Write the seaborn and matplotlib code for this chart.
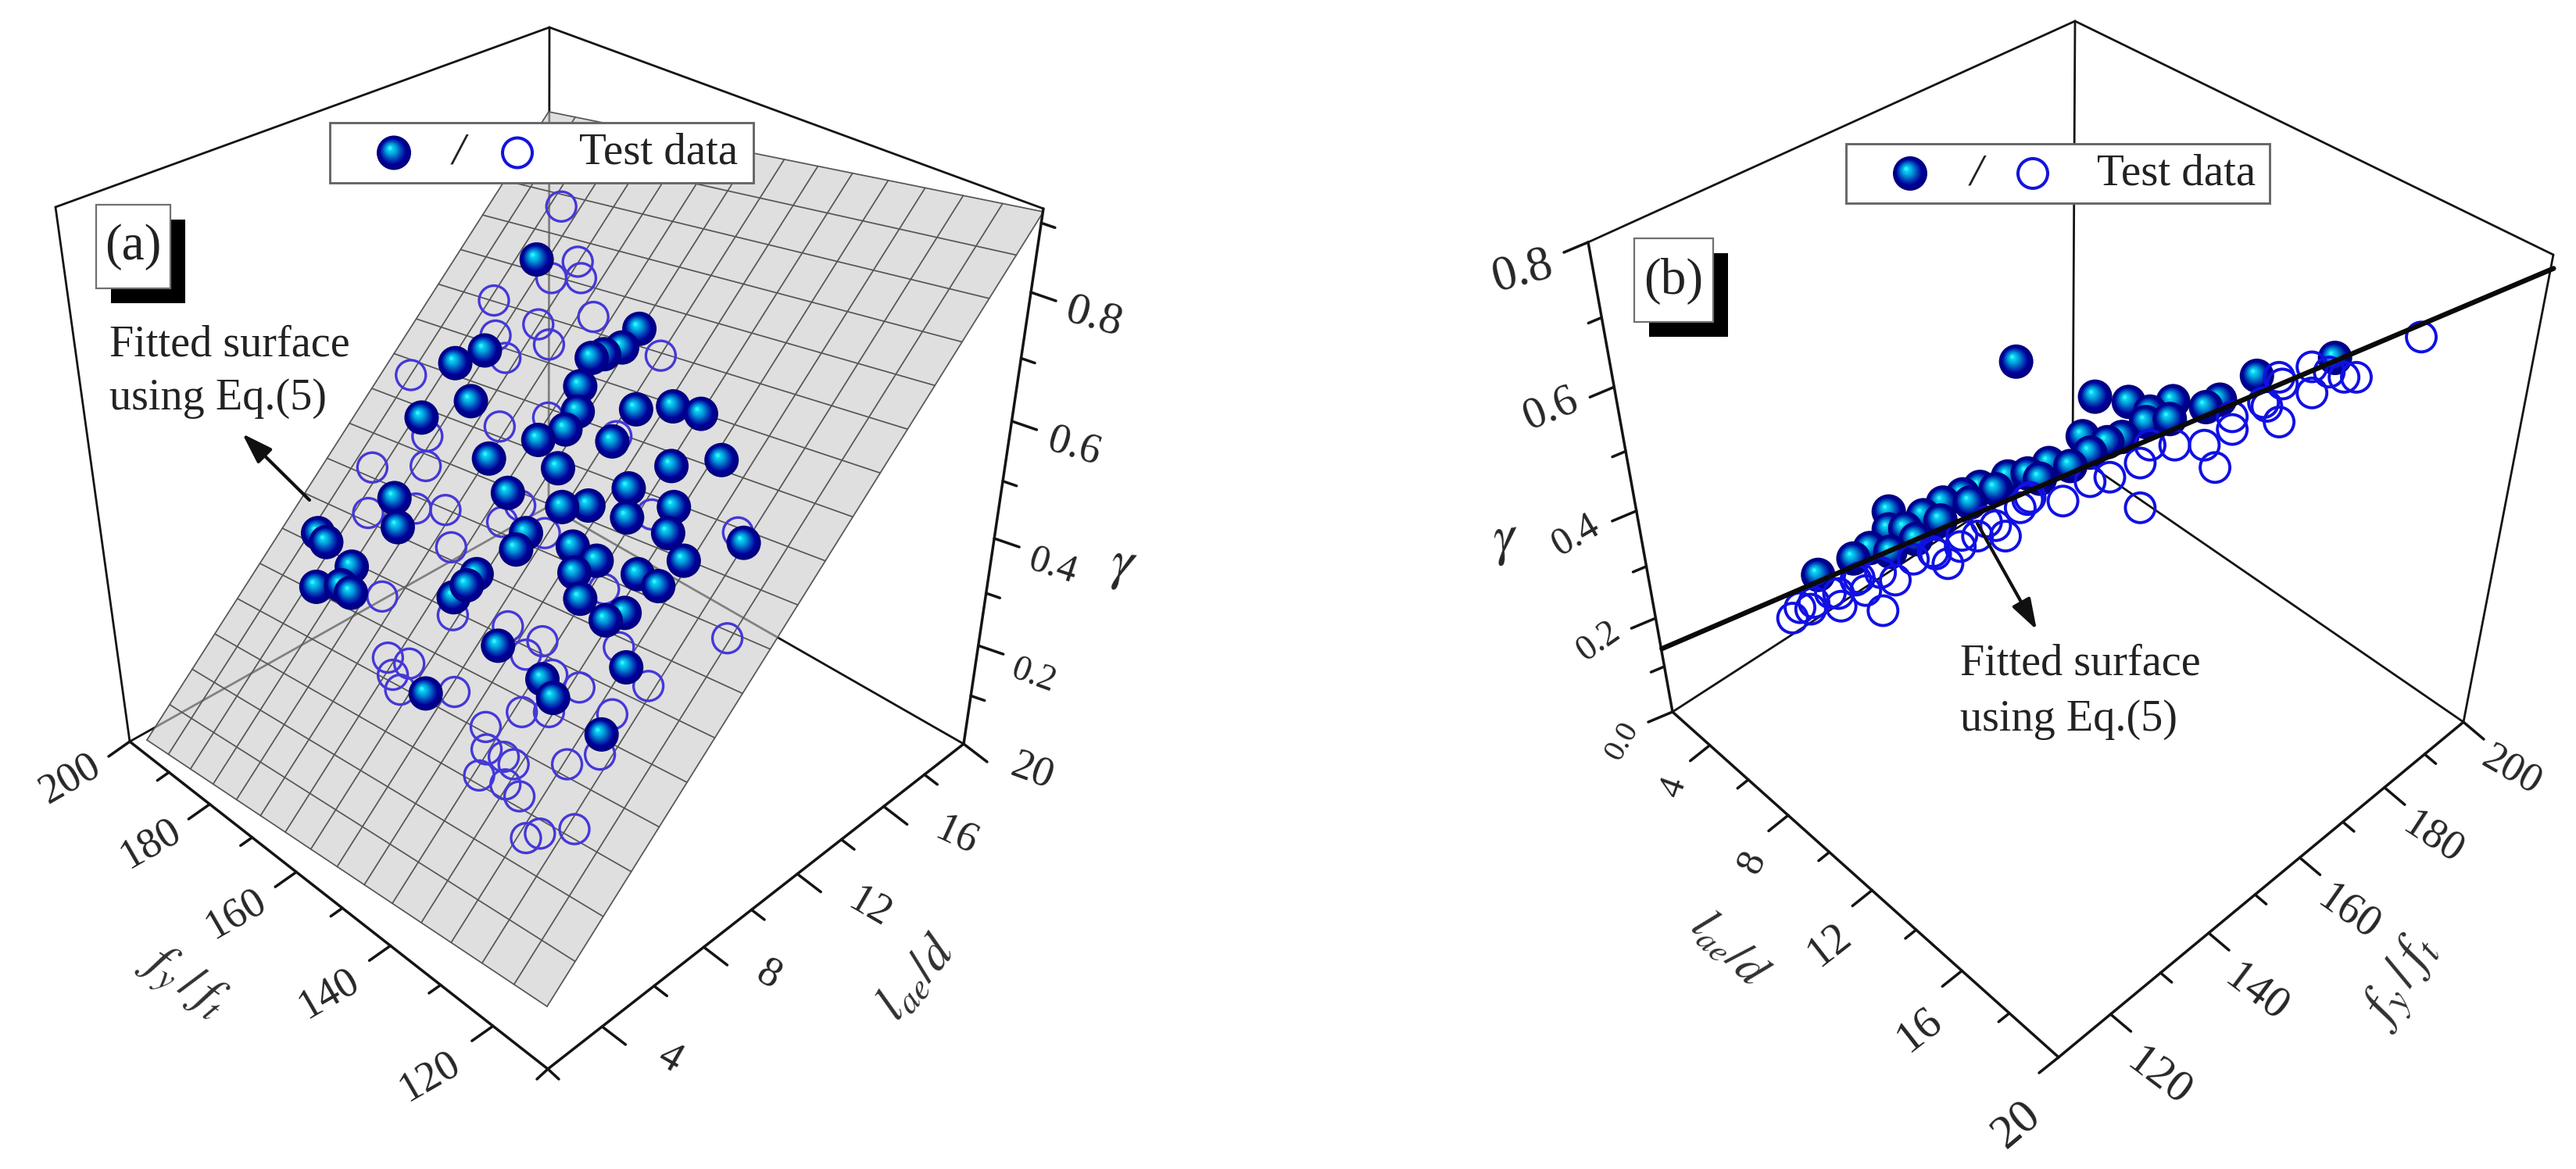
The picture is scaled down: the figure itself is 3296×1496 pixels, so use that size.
import numpy as np
import pandas as pd
import matplotlib
matplotlib.use("Agg")
import matplotlib.pyplot as plt
from matplotlib.patches import Rectangle, FancyArrowPatch
from matplotlib.colors import to_rgb
import seaborn as sns

sns.set_theme(style="white")
plt.rcParams["font.family"] = ["Liberation Serif", "DejaVu Serif"]
plt.rcParams["mathtext.fontset"] = "stix"

# ---- projected data (reading units: 1568 per half-image) ----
a_filled_x = [653,778,757,735,720,590,554,706,573,703,513,774,819,853,688,655,745,595,878,817,679,618,480,765,820,716,684,763,484,813,387,397,640,628,905,697,726,832,428,580,699,776,801,385,415,427,552,568,706,760,737,606,762,660,673,518,732]
a_filled_y = [348,441,466,475,480,470,487,518,538,552,560,549,545,555,576,590,592,615,617,625,628,661,668,655,680,678,680,694,707,715,715,727,715,737,728,733,752,752,760,770,768,770,786,787,785,795,801,785,803,822,832,866,895,911,936,930,985]
a_open_x = [683,703,707,671,601,722,655,603,668,615,804,500,667,520,608,750,453,518,506,448,542,633,611,793,663,549,898,465,735,551,618,660,640,753,885,472,498,478,487,553,672,705,789,635,668,745,591,592,613,625,583,615,632,690,730,699,640,657]
a_open_y = [277,351,373,373,403,425,435,450,462,480,477,503,560,585,572,585,627,625,682,688,684,678,700,690,715,734,714,800,790,825,840,860,878,868,856,882,890,905,925,928,905,922,920,955,955,958,975,1005,1015,1025,1040,1052,1068,1025,1012,1112,1124,1118]

b_filled_x = [886,982,1023,1077,1134,1117,1179,1274,1049,1044,1073,967,1015,997,976,926,952,876,900,842,821,797,773,731,731,751,708,688,645,861,830,794,764,733,915]
b_filled_y = [485,532,539,538,536,546,504,480,552,566,562,585,586,593,607,621,625,639,635,653,663,674,691,686,710,709,735,749,771,656,674,698,723,740,642]
b_open_x = [614,623,636,673,670,703,724,739,691,721,761,803,788,818,839,873,861,891,903,943,976,1000,1037,1037,1049,1079,1115,1128,1149,1149,1206,1191,1206,1246,1246,1285,1300,1267,1379,660,640,695,785,820,850,900,1210,1187]
b_open_y = [829,815,817,813,796,792,819,778,778,768,750,756,743,733,719,719,705,681,667,672,646,640,621,681,597,597,597,627,576,559,566,545,506,527,492,506,506,499,452,795,808,775,740,718,700,670,515,540]
b_surface_edge_x = [455,1000,1540]
b_surface_edge_y = [870,612,360]

# axis values
fy_major = [120,140,160,180,200]
fy_minor = [130,150,170,190]
lac_major = [4,8,12,16,20]
lac_minor = [6,10,14,18]
gam_major = [0.2,0.4,0.6,0.8]
gam_minor = [0.1,0.3,0.5,0.7]
fy_grid = list(range(110,201,6))
lac_grid = list(range(2,21))

READ_X, READ_Y = 0.951, 1.048
BLACK = "#141414"

fig = plt.figure(figsize=(32.96,14.96), dpi=100, facecolor="white")
ax_a = fig.add_axes([0,0,0.5,1]); ax_a.set_xlim(0,1648); ax_a.set_ylim(1496,0)
ax_b = fig.add_axes([0.5,0,0.5,1]); ax_b.set_xlim(1648,3296); ax_b.set_ylim(1496,0)
for ax in (ax_a,ax_b):
    ax.axis("off")


def edge(p0,p1,v0,v1,k,v):
    t=(v-v0)/(v1-v0)
    s=k*t/(1-t+k*t)
    return np.array(p0)+(np.array(p1)-np.array(p0))*s


def homography(src,dst):
    A,b=[],[]
    for (u,v),(x,y) in zip(src,dst):
        A.append([u,v,1,0,0,0,-u*x,-v*x]); b.append(x)
        A.append([0,0,0,u,v,1,-u*y,-v*y]); b.append(y)
    h=np.linalg.solve(np.array(A,float),np.array(b,float))
    return np.append(h,1).reshape(3,3)


def apply_h(H,u,v):
    w=H@np.array([u,v,1.0])
    return w[0]/w[2],w[1]/w[2]


def line(ax,p,q,lw=2.0,c=BLACK,z=3):
    ax.plot([p[0],q[0]],[p[1],q[1]],color=c,lw=lw,solid_capstyle="round",zorder=z)


def axis_ticks(ax,p0,p1,v0,v1,k,major,minor,out,lw=2.0):
    line(ax,p0,p1,lw=lw)
    o=np.array(out)
    for v in major:
        p=edge(p0,p1,v0,v1,k,v); line(ax,p,p+o,lw=lw)
    for v in minor:
        p=edge(p0,p1,v0,v1,k,v); line(ax,p,p+o*0.55,lw=lw)


def spheres(ax,xs,ys,z=6,R=22.0,stops=None):
    stops=stops or ["#00007c","#00009a","#0050bc","#00b0e4","#2cf0ff"]
    N=13
    names=[f"L{i}" for i in range(N)]
    pal,sizes,rows={}, {}, []
    for i,n in enumerate(names):
        t=i/(N-1)
        pos=t*(len(stops)-1); j=min(int(pos),len(stops)-2); f=pos-j
        pal[n]=tuple((1-f)*np.array(to_rgb(stops[j]))+f*np.array(to_rgb(stops[j+1])))
        d=max(2*R*(1-t)**0.85,5)
        sizes[n]=(d*0.72)**2
    for x,y in zip(xs,ys):
        for i,n in enumerate(names):
            t=i/(N-1)
            rows.append((x-5*t,y-6*t,n))
    df=pd.DataFrame(rows,columns=["x","y","layer"])
    sns.scatterplot(data=df,x="x",y="y",hue="layer",size="layer",palette=pal,sizes=sizes,
                    hue_order=names,size_order=names,legend=False,linewidth=0,ax=ax,zorder=z)


def rings(ax,xs,ys,color,z=5,lw=2.4):
    sns.scatterplot(x=list(xs),y=list(ys),s=(38*0.72)**2,facecolors="none",edgecolor=color,
                    linewidth=lw,ax=ax,zorder=z,legend=False)


def badge(ax,x0,y0,x1,y1,text):
    ax.add_patch(Rectangle((x0+19,y0+19),x1-x0,y1-y0,fc="black",ec="none",zorder=8))
    ax.add_patch(Rectangle((x0,y0),x1-x0,y1-y0,fc="white",ec="#707070",lw=1.6,zorder=9))
    ax.text((x0+x1)/2,(y0+y1)/2+1,text,ha="center",va="center",fontsize=47,color="#222222",zorder=10)


def legend_box(ax,x0,y0,x1,y1,sx,slash,cx,tx,ring_color):
    cy=(y0+y1)/2
    ax.add_patch(Rectangle((x0,y0),x1-x0,y1-y0,fc="white",ec="#666666",lw=2.1,zorder=8))
    spheres(ax,[sx],[cy],z=9)
    ax.text(slash,cy,"/",ha="center",va="center",fontsize=42,style="italic",color="#222222",zorder=10)
    rings(ax,[cx],[cy],ring_color,z=10,lw=2.9)
    ax.text(tx,cy,"Test data",ha="center",va="center",fontsize=41,color="#222222",zorder=10)


def label_list(ax,pos,labels,rot,sizes):
    for (x,y),t,r,s in zip(pos,labels,rot,sizes):
        ax.text(x,y,t,ha="center",va="center",rotation=r,rotation_mode="anchor",fontsize=s,color="#262626",zorder=7)


def arrow(ax,p,q):
    ax.add_patch(FancyArrowPatch(p,q,arrowstyle="-|>,head_length=1.0,head_width=0.33",mutation_scale=24,
                                 lw=3,color="#101010",shrinkA=0,shrinkB=0,zorder=7))

# ==== panel (a) ====
A_top,A_l,A_r=(703,35),(71,265),(1335,267)
A_bl,A_br,A_f,A_back=(166,949),(1233,952),(701,1368),(702,648)
for p,q in [(A_top,A_l),(A_top,A_r),(A_l,A_bl),(A_top,A_back),(A_back,A_bl),(A_back,A_br)]:
    line(ax_a,p,q,lw=2.0,z=1)

H=homography([(200,2),(110,2),(110,20),(200,20)],[(188,947),(700,1288),(1335,271),(702,143)])
corners=[apply_h(H,*c) for c in [(200,2),(110,2),(110,20),(200,20)]]
ax_a.fill([c[0] for c in corners],[c[1] for c in corners],fc="#cbcbcb",ec="none",alpha=0.6,zorder=2)
for fy in fy_grid:
    p,q=apply_h(H,fy,2),apply_h(H,fy,20); line(ax_a,p,q,lw=1.25,c="#565656",z=2.5)
for lac in lac_grid:
    p,q=apply_h(H,110,lac),apply_h(H,200,lac); line(ax_a,p,q,lw=1.25,c="#565656",z=2.5)

axis_ticks(ax_a,A_bl,A_f,200,110,0.828,fy_major,fy_minor,(-27,19),lw=2.5)
axis_ticks(ax_a,A_f,A_br,2,20,1.2,lac_major,lac_minor,(30,23),lw=2.5)
axis_ticks(ax_a,A_br,A_r,0.0,0.92,0.81,gam_major,gam_minor+[0.9],(32,11),lw=2.5)
line(ax_a,A_f,(A_f[0]-14,A_f[1]+13),lw=2.5); line(ax_a,A_f,(A_f[0]+14,A_f[1]+13),lw=2.5)

ax_x=np.array(a_open_x)/READ_X; ax_y=np.array(a_open_y)/READ_Y
rings(ax_a,ax_x,ax_y,"#4438d8",z=5)
spheres(ax_a,np.array(a_filled_x)/READ_X,np.array(a_filled_y)/READ_Y,z=6)

label_list(ax_a,[(90,997),(192,1080),(302,1170),(420,1272),(550,1378)],[str(v) for v in fy_major[::-1]],[30]*5,[39]*5)
label_list(ax_a,[(857,1355),(984,1248),(1112,1162),(1224,1070),(1321,987)],[str(v) for v in lac_major],[-30,-30,-30,-25,-20],[39]*5)
label_list(ax_a,[(1322,865),(1347,725),(1374,572),(1400,406)],[f"{v:.1f}" for v in gam_major],[-20,-18,-17,-16],[33,36,39,42])
ax_a.text(1438,725,r"$\gamma$",fontsize=52,rotation=-5,ha="center",va="center",color="#262626")
ax_a.text(234,1257,r"$f_y\,/\,f_t$",fontsize=47,rotation=-35,ha="center",va="center",color="#303030")
ax_a.text(1175,1253,r"$l_{ae}/d$",fontsize=47,rotation=50,ha="center",va="center",color="#303030")

badge(ax_a,123,262,218,369,"(a)")
legend_box(ax_a,422,157,964,234,504,587,662,843,"#1414dc")
ax_a.text(140,441,"Fitted surface",fontsize=40.5,ha="left",va="center",color="#222222")
ax_a.text(140,510,"using Eq.(5)",fontsize=40.5,ha="left",va="center",color="#222222")
arrow(ax_a,(396,640),(310,555))

# ==== panel (b) ====
B_top,B_l,B_r=(2655,27),(2032,310),(3267,326)
B_bl,B_br,B_f,B_back=(2140,911),(3152,924),(2634,1353),(2652,580)
for p,q in [(B_top,B_l),(B_top,B_r),(B_r,B_br),(B_top,B_back),(B_back,B_bl),(B_back,B_br)]:
    line(ax_b,p,q,lw=2.0,z=1)

axis_ticks(ax_b,B_bl,B_f,2,20,0.855,lac_major,lac_minor,(-25,20),lw=2.5)
axis_ticks(ax_b,B_f,B_br,110,200,1.178,fy_major,fy_minor,(26,22),lw=2.5)
axis_ticks(ax_b,B_bl,B_l,0.0,0.8,0.748,[0.0]+gam_major,gam_minor,(-31,13),lw=2.5)

spheres(ax_b,1648+np.array(b_filled_x)/READ_X,np.array(b_filled_y)/READ_Y,z=4)
rings(ax_b,1648+np.array(b_open_x)/READ_X,np.array(b_open_y)/READ_Y,"#1010e4",z=5,lw=2.8)
sns.lineplot(x=1648+np.array(b_surface_edge_x)/READ_X,y=np.array(b_surface_edge_y)/READ_Y,color="#0a0a0a",
             lw=4.6,sort=False,errorbar=None,ax=ax_b,zorder=6)

label_list(ax_b,[(2142,1008),(2242,1103),(2340,1210),(2456,1318),(2580,1440)],[str(v) for v in lac_major],[70,65,38,38,40],[34,37,40,42,44])
label_list(ax_b,[(2763,1379),(2887,1271),(3005,1168),(3113,1073),(3214,986)],[str(v) for v in fy_major],[-37,-37,-35,-33,-30],[42,41,40,39,38])
label_list(ax_b,[(2076,949),(2045,821),(2016,685),(1984,523),(1948,348)],["0.0","0.2","0.4","0.6","0.8"],[60,35,30,22,15],[29,33,36,41,45])
ax_b.text(1927,692,r"$\gamma$",fontsize=52,rotation=8,ha="center",va="center",color="#262626")
ax_b.text(3073,1257,r"$f_y\,/\,f_t$",fontsize=50,rotation=58,ha="center",va="center",color="#303030")
ax_b.text(2211,1216,r"$l_{ae}/d$",fontsize=44,rotation=-44,ha="center",va="center",color="#303030")

badge(ax_b,2091,305,2192,412,"(b)")
legend_box(ax_b,2362,184,2904,260,2444,2529,2601,2785,"#1414dc")
ax_b.text(2508,849,"Fitted surface",fontsize=40.5,ha="left",va="center",color="#222222")
ax_b.text(2508,921,"using Eq.(5)",fontsize=40.5,ha="left",va="center",color="#222222")
arrow(ax_b,(2530,670),(2606,806))

fig.savefig("out.png",dpi=100,facecolor="white")
